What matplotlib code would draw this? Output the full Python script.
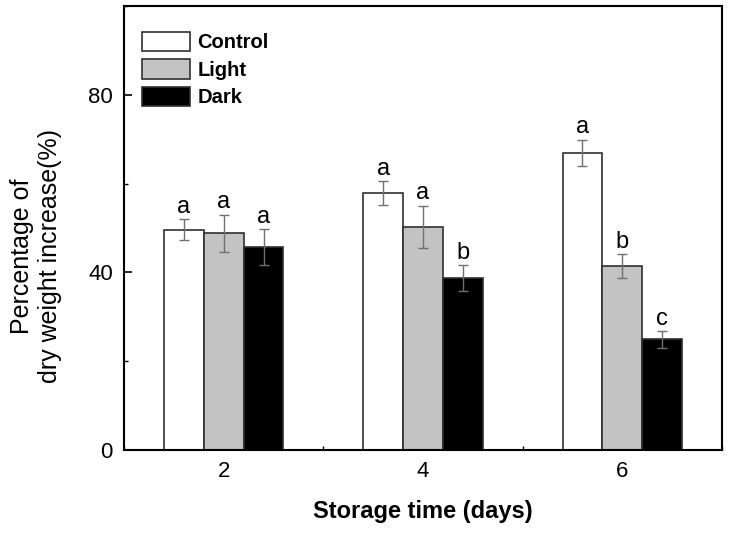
import numpy as np
import matplotlib
matplotlib.use('Agg')
import matplotlib.pyplot as plt
from matplotlib.ticker import MultipleLocator

plt.rcParams['font.family'] = ['Liberation Sans', 'DejaVu Sans']

days = [2, 4, 6]
control = [49.6, 57.9, 66.9]
light = [48.8, 50.2, 41.4]
dark = [45.7, 38.8, 24.9]
control_err = [2.4, 2.7, 3.0]
light_err = [4.2, 4.8, 2.7]
dark_err = [4.0, 2.9, 1.9]
control_sig = ['a', 'a', 'a']
light_sig = ['a', 'a', 'b']
dark_sig = ['a', 'b', 'c']

fig = plt.figure(figsize=(7.29, 5.33), dpi=100)
ax = fig.add_axes([124/729, 1-450/533, 598/729, 444/533])

x = np.array(days, dtype=float)
w = 0.4
series = [
    (control, control_err, control_sig, 'white', 'Control', -w),
    (light, light_err, light_sig, '#c3c3c3', 'Light', 0),
    (dark, dark_err, dark_sig, 'black', 'Dark', w),
]
for vals, errs, sig, col, lab, off in series:
    ax.bar(x + off, vals, w, color=col, edgecolor='#303030', linewidth=1.2,
           label=lab, zorder=2)
    ax.errorbar(x + off, vals, yerr=errs, fmt='none', ecolor='#707070',
                elinewidth=1, capsize=3.5, capthick=1, zorder=3)
    for xi, v, e, s in zip(x + off, vals, errs, sig):
        ax.text(xi, v + e + 0.3, s, ha='center', va='bottom', fontsize=17)

ax.set_xlim(1, 7)
ax.set_ylim(0, 100)
ax.set_xticks(days)
ax.xaxis.set_minor_locator(MultipleLocator(1))
ax.set_yticks([0, 40, 80])
ax.yaxis.set_minor_locator(MultipleLocator(20))
ax.tick_params(which='major', direction='in', length=6, width=1.2, labelsize=16, pad=8)
ax.tick_params(which='minor', direction='in', length=3, width=1)
for sp in ax.spines.values():
    sp.set_linewidth(1.5)

ax.set_xlabel('Storage time (days)', fontsize=17, fontweight='bold')
ax.xaxis.set_label_coords(0.5, -0.112)
ax.set_ylabel('Percentage of\ndry weight increase(%)', fontsize=18)
ax.yaxis.set_label_coords(-0.104, 0.437)

leg = ax.legend(loc='upper left', bbox_to_anchor=(0.03, 0.942), frameon=False,
                prop={'weight': 'bold', 'size': 14.5}, handlelength=2.4,
                handleheight=1.1, labelspacing=0.35, handletextpad=0.35,
                borderaxespad=0.0, borderpad=0.0)

fig.savefig('out.png', dpi=100)
